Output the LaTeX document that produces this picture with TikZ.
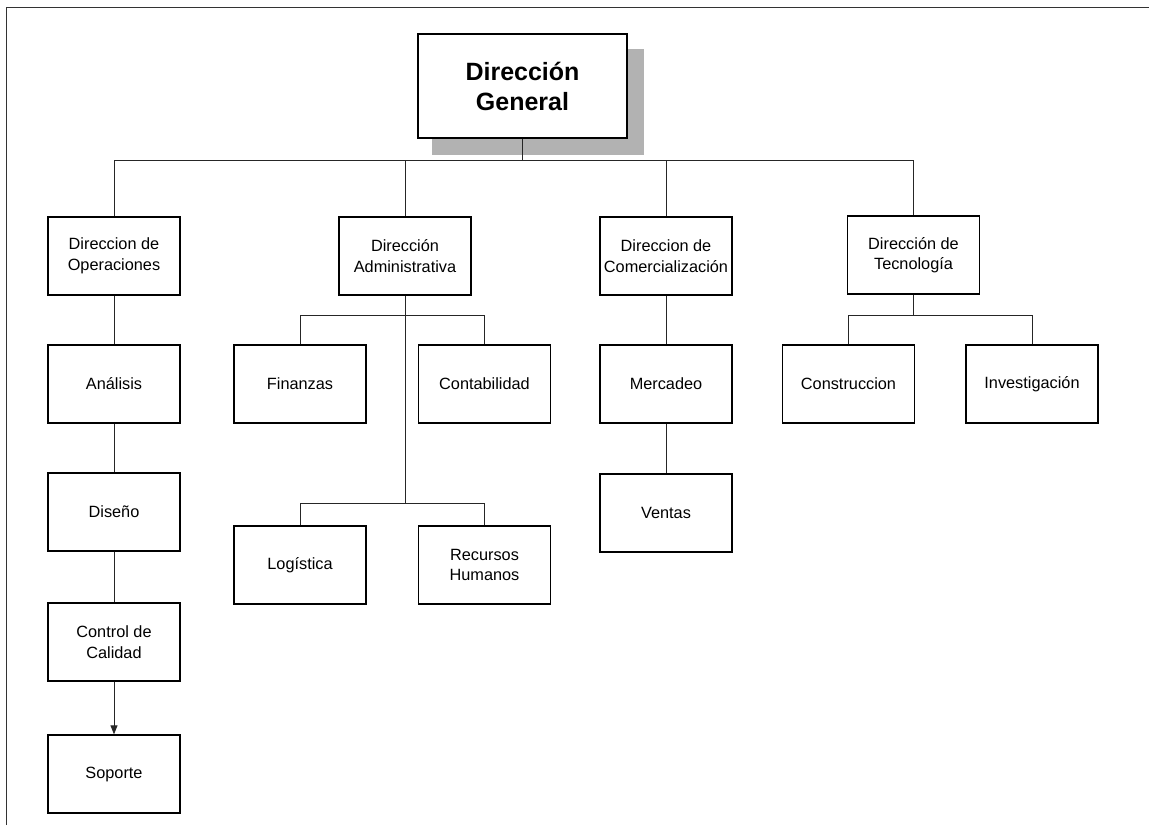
\documentclass[tikz,border=0pt]{standalone}
\usepackage{fontspec}
\setmainfont{Liberation Sans}
\usetikzlibrary{arrows.meta,calc,backgrounds}
\begin{document}
\begin{tikzpicture}[x=1pt,y=-1pt,
  unit/.style={draw=black, line width=1.3pt, fill=white, minimum width=132pt,
    minimum height=78pt, inner sep=1pt, align=center,
    font=\fontsize{16.3}{20.5}\selectfont},
  head/.style={unit, minimum width=209pt, minimum height=104pt,
    font=\fontsize{25}{30}\selectfont\bfseries},
  link/.style={draw=black!85, line width=0.8pt},
  frame/.style={draw=black!80, line width=1pt}]
\useasboundingbox (0,0) rectangle (1149,825);

% page frame
\coordinate (ftl) at (6,7);
\coordinate (ftr) at (1149,7);
\coordinate (fbl) at (6,825);
\draw[frame] (fbl) -- (ftl) -- (ftr);

% top of the organisation
\node[head] (gen) at (522.5,86) {Dirección\\General};
\begin{scope}[on background layer]
  \fill[gray!60] ($(gen.south west)+(15,16)$) rectangle ($(gen.north east)+(16,16)$);
\end{scope}

% first level
\node[unit] (ope) at (114,256) {Direccion de\\Operaciones};
\node[unit] (adm) at (405,256) {Dirección\\Administrativa};
\node[unit] (com) at (666,256) {Direccion de\\Comercialización};
\node[unit] (tec) at (913.5,255) {Dirección de\\Tecnología};

% operations column
\node[unit] (ana) at (114,384) {Análisis};
\node[unit] (dis) at (114,512) {Diseño};
\node[unit] (cal) at (114,642) {Control de\\Calidad};
\node[unit] (sop) at (114,774) {Soporte};

% administration
\node[unit] (fin) at (300,384) {Finanzas};
\node[unit] (con) at (484.5,384) {Contabilidad};
\node[unit] (log) at (300,565) {Logística};
\node[unit] (rrh) at (484.5,565) {Recursos\\Humanos};

% commercial
\node[unit] (mer) at (666,384) {Mercadeo};
\node[unit] (ven) at (666,513) {Ventas};

% technology
\node[unit] (cst) at (848.5,384) {Construccion};
\node[unit] (inv) at (1032,384) {Investigación};

% bus levels
\coordinate (bus) at (0,160);
\coordinate (rowa) at (0,315);
\coordinate (rowb) at (0,503);

% general bus
\draw[link] (gen.south) -- (gen.south |- bus);
\draw[link] (ope.north) -- (ope.north |- bus) -- (tec.north |- bus) -- (tec.north);
\draw[link] (adm.north) -- (adm.north |- bus);
\draw[link] (com.north) -- (com.north |- bus);

% operations chain
\draw[link] (ope.south) -- (ana.north);
\draw[link] (ana.south) -- (dis.north);
\draw[link] (dis.south) -- (cal.north);
\draw[link, -{Triangle[length=9pt,width=7pt]}] (cal.south) -- (sop.north);

% administration branches
\draw[link] (adm.south) -- (adm.south |- rowb);
\draw[link] (fin.north) -- (fin.north |- rowa) -- (con.north |- rowa) -- (con.north);
\draw[link] (log.north) -- (log.north |- rowb) -- (rrh.north |- rowb) -- (rrh.north);

% commercial chain
\draw[link] (com.south) -- (mer.north);
\draw[link] (mer.south) -- (ven.north);

% technology branches
\draw[link] (tec.south) -- (tec.south |- rowa);
\draw[link] (cst.north) -- (cst.north |- rowa) -- (inv.north |- rowa) -- (inv.north);
\end{tikzpicture}
\end{document}
